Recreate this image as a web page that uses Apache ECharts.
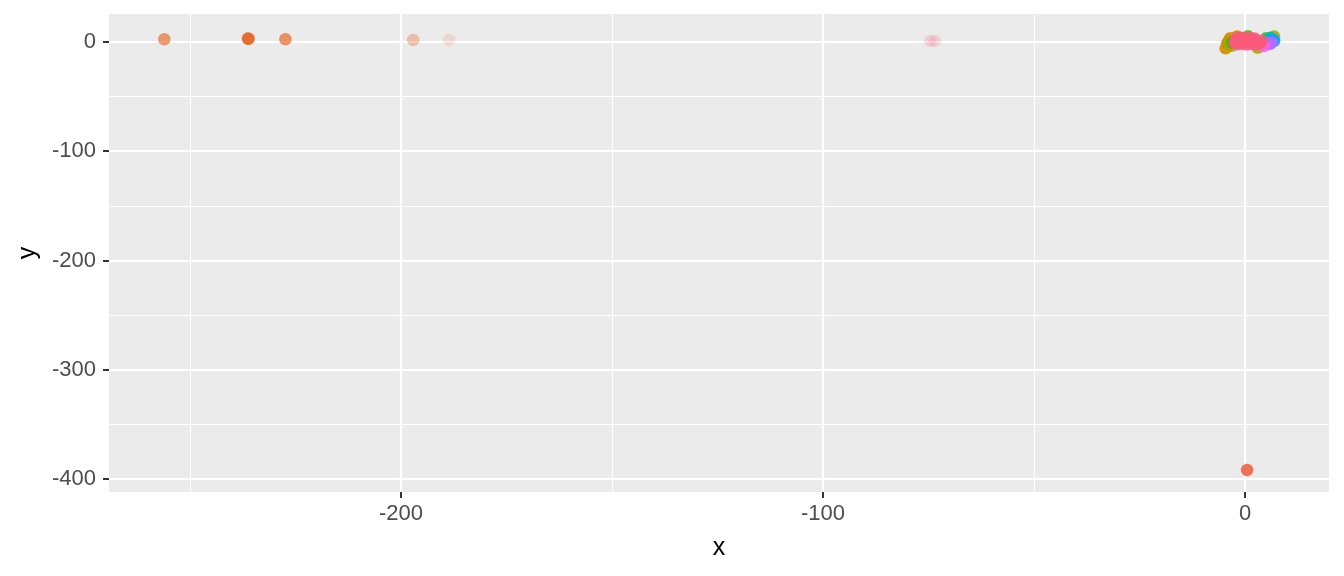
<!DOCTYPE html>
<html><head><meta charset="utf-8">
<script src="https://cdn.jsdelivr.net/npm/echarts@6/dist/echarts.min.js"></script>
<style>html,body{margin:0;padding:0;background:#fff}#c{width:1344px;height:576px}</style>
</head><body><div id="c"></div>
<script>
// axis ranges and ticks
const xRange = [-269.2, 19.9];
const yRange = [-411.9, 25.6];
const xMajorTicks = [-200, -100, 0];
const xMinorTicks = [-250, -150, -50];
const yMajorTicks = [-400, -300, -200, -100, 0];
const yMinorTicks = [-350, -250, -150, -50];

// group: far-left orange outliers
const outlierX = [-256.1, -236.2, -236.3, -236.1, -227.4, -197.1, -188.6];
const outlierY = [2.5, 3.0, 3.1, 2.9, 2.5, 1.8, 1.8];
const outlierAlpha = [0.65, 0.7, 0.7, 0.7, 0.7, 0.35, 0.15];

// group: low coral outlier
const coralX = [0.5];
const coralY = [-391.8];
const coralAlpha = [0.9];

// cluster groups near the origin
const orangeX = [-3.8, -4.6, -1.9, -3.5, -4.2];
const orangeY = [1.2, -5.8, 5.0, 3.5, -1.0];
const orangeAlpha = [0.9, 0.9, 0.9, 0.9, 0.9];

const oliveX = [-4.0, 6.9, 3.0, -3.2];
const oliveY = [-1.8, 4.9, -5.3, -3.5];
const oliveAlpha = [0.85, 0.85, 0.85, 0.85];

const greenX = [0.7, -3.0, 5.0];
const greenY = [5.3, -0.5, 3.5];
const greenAlpha = [0.8, 0.8, 0.8];

const tealX = [5.5, 6.0, 5.0];
const tealY = [2.5, 3.8, 1.5];
const tealAlpha = [0.85, 0.85, 0.85];

const blueX = [6.9, 6.6];
const blueY = [1.0, 2.2];
const blueAlpha = [0.9, 0.9];

const purpleX = [5.9, 6.3, 5.5];
const purpleY = [-1.8, -0.5, -1.2];
const purpleAlpha = [0.9, 0.9, 0.9];

const magentaX = [4.5, 3.8];
const magentaY = [-3.7, -2.5];
const magentaAlpha = [0.85, 0.85];

const pinkX = [-2.0, -1.0, 0.2, 1.2, 2.3, -2.2, -1.3, -0.3, 0.8, 1.9, 2.8, -2.1, -1.1, 0.0, 1.0, 2.1, 3.2, -1.8, -0.7, 0.4, 1.5, 2.6, -2.5, 0.6, -0.4, 1.6, 3.5, 4.0, -74.6, -73.5];
const pinkY = [3.5, 3.8, 3.9, 3.6, 3.2, 1.5, 1.8, 2.2, 2.0, 1.6, 1.0, -0.3, 0.2, 0.5, 0.0, -0.2, 0.3, -2.2, -1.8, -2.4, -1.9, -2.5, -1.0, 1.0, -0.8, 2.8, -1.5, 0.8, 0.8, 0.8];
const pinkAlpha = [0.8, 0.8, 0.8, 0.8, 0.8, 0.8, 0.8, 0.8, 0.8, 0.8, 0.8, 0.8, 0.8, 0.8, 0.8, 0.8, 0.8, 0.8, 0.8, 0.8, 0.8, 0.8, 0.8, 0.8, 0.8, 0.8, 0.8, 0.8, 0.18, 0.18];

const FONT = 'Liberation Sans, Arial, sans-serif';

function mk(name, xs, ys, as, color) {
  return {
    type: 'scatter', name: name, symbolSize: 12.5, silent: true,
    itemStyle: { color: color },
    data: xs.map((x, i) => ({ value: [x, ys[i]], itemStyle: { opacity: as[i] } }))
  };
}

const series = [
  mk('outlier', outlierX, outlierY, outlierAlpha, '#E5692B'),
  mk('orange', orangeX, orangeY, orangeAlpha, '#D98A00'),
  mk('olive', oliveX, oliveY, oliveAlpha, '#A3A500'),
  mk('green', greenX, greenY, greenAlpha, '#39B600'),
  mk('teal', tealX, tealY, tealAlpha, '#00BFA0'),
  mk('blue', blueX, blueY, blueAlpha, '#00A9FF'),
  mk('purple', purpleX, purpleY, purpleAlpha, '#B36BFF'),
  mk('magenta', magentaX, magentaY, magentaAlpha, '#F564E3'),
  mk('pink', pinkX, pinkY, pinkAlpha, '#FA5A7A'),
  mk('coral', coralX, coralY, coralAlpha, '#EF6346')
];

function majorAxis(range, ticks, extra) {
  return Object.assign({
    type: 'value', min: range[0], max: range[1],
    axisLine: { show: false, onZero: false },
    axisTick: { show: true, customValues: ticks, length: 6, lineStyle: { color: '#333333', width: 2 } },
    splitLine: { show: true, lineStyle: { color: '#FFFFFF', width: 2.2 } },
    nameLocation: 'middle',
    nameTextStyle: { color: '#000000', fontSize: 25, fontFamily: FONT }
  }, extra);
}
function minorAxis(range, ticks, extra) {
  return Object.assign({
    type: 'value', min: range[0], max: range[1],
    axisLine: { show: false, onZero: false },
    axisTick: { show: false, customValues: ticks },
    axisLabel: { show: false, customValues: ticks },
    splitLine: { show: true, lineStyle: { color: '#FFFFFF', width: 1.1 } }
  }, extra);
}

const chart = echarts.init(document.getElementById('c'), null, { renderer: 'canvas' });
chart.setOption({
  animation: false,
  backgroundColor: '#FFFFFF',
  grid: { left: 109, right: 15, top: 14, bottom: 84, show: true, backgroundColor: '#EBEBEB', borderWidth: 0, containLabel: false },
  xAxis: [
    majorAxis(xRange, xMajorTicks, { position: 'bottom', name: 'x', nameGap: 44, axisLabel: { customValues: xMajorTicks, color: '#4D4D4D', fontSize: 22, fontFamily: FONT, margin: 11 } }),
    minorAxis(xRange, xMinorTicks, { position: 'top' })
  ],
  yAxis: [
    majorAxis(yRange, yMajorTicks, { position: 'left', name: 'y', nameGap: 63, axisLabel: { customValues: yMajorTicks, color: '#4D4D4D', fontSize: 22, fontFamily: FONT, margin: 13 } }),
    minorAxis(yRange, yMinorTicks, { position: 'right' })
  ],
  series: series
});
</script></body></html>
